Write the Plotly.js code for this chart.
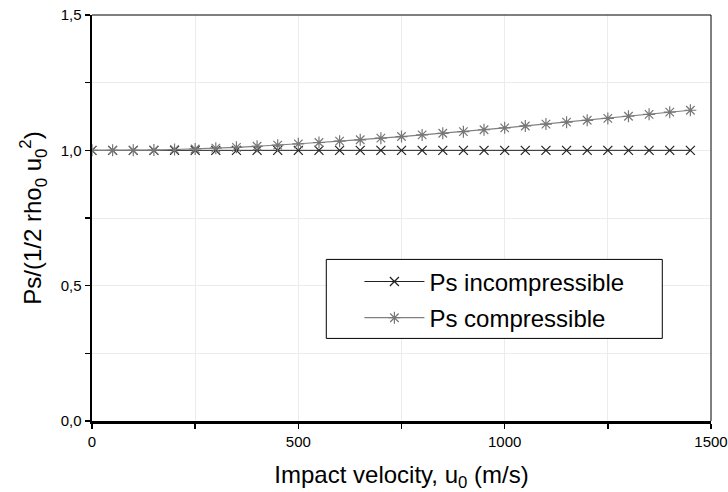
<!DOCTYPE html>
<html>
<head>
<meta charset="utf-8">
<script src="https://cdn.plot.ly/plotly-3.0.1.min.js"></script>
<style>html,body{margin:0;padding:0;background:#fff}#chart{width:728px;height:492px}</style>
</head>
<body>
<div id="chart"></div>
<script>
const velocity = [0,50,100,150,200,250,300,350,400,450,500,550,600,650,700,750,800,850,900,950,1000,1050,1100,1150,1200,1250,1300,1350,1400,1450];
const psIncompressible = [1,1,1,1,1,1,1,1,1,1,1,1,1,1,1,1,1,1,1,1,1,1,1,1,1,1,1,1,1,1];
const psCompressible = [1.000,1.000,1.000,1.001,1.003,1.005,1.008,1.011,1.015,1.019,1.024,1.029,1.034,1.039,1.045,1.051,1.057,1.063,1.069,1.076,1.083,1.090,1.097,1.104,1.111,1.118,1.126,1.133,1.141,1.148];
const yTickVals = [0,0.5,1.0,1.5];
const yTickText = ['0,0','0,5','1,0','1,5'];
const xTickVals = [0,500,1000,1500];
const xTickText = ['0','500','1000','1500'];

const font = 'Liberation Sans, Arial, sans-serif';
const traces = [
  {x: velocity, y: psIncompressible, name: 'Ps incompressible', legendgroup: 'a', type: 'scatter', mode: 'lines+markers',
   line: {color: '#222', width: 1}, marker: {symbol: 'x-thin-open', size: 9, color: '#222', line: {color: '#222', width: 1.2}}},
  {x: velocity, y: psCompressible, name: 'Ps compressible', legendgroup: 'b', type: 'scatter', mode: 'lines+markers',
   line: {color: '#808080', width: 1.2}, marker: {symbol: 'asterisk-open', size: 10, color: '#777', line: {color: '#777', width: 1.2}}}
];
const layout = {
  width: 728, height: 492,
  margin: {l: 92, r: 17, t: 15, b: 71},
  paper_bgcolor: '#fff', plot_bgcolor: '#fff',
  font: {family: font, color: '#000'},
  showlegend: true,
  legend: {x: 0.432, y: 0.398, xanchor: 'left', yanchor: 'top', bgcolor: 'rgba(0,0,0,0)', borderwidth: 0,
           itemwidth: 60, font: {family: font, size: 24, color: '#000'}, tracegroupgap: 2},
  xaxis: {range: [0, 1500], tickvals: xTickVals, ticktext: xTickText, ticks: 'outside', ticklen: 5, tickwidth: 1.5, tickcolor: '#000',
          showline: true, linecolor: '#000', linewidth: 2.5, zeroline: false, showgrid: true, gridcolor: '#ececec', gridwidth: 1,
          minor: {dtick: 250, tick0: 0, ticks: 'outside', ticklen: 5, tickwidth: 1.5, tickcolor: '#000', showgrid: true, gridcolor: '#ececec'},
          tickfont: {family: font, size: 15, color: '#000'},
          title: {text: 'Impact velocity, u<sub>0</sub> (m/s)', font: {family: font, size: 24, color: '#000'}, standoff: 18}},
  yaxis: {range: [0, 1.5], tickvals: yTickVals, ticktext: yTickText, ticks: 'outside', ticklen: 5, tickwidth: 1.5, tickcolor: '#000',
          showline: true, linecolor: '#000', linewidth: 2.5, zeroline: false, showgrid: true, gridcolor: '#ececec', gridwidth: 1,
          minor: {dtick: 0.25, tick0: 0, ticks: 'outside', ticklen: 5, tickwidth: 1.5, tickcolor: '#000', showgrid: true, gridcolor: '#ececec'},
          tickfont: {family: font, size: 15, color: '#000'},
          title: {text: 'Ps/(1/2 rho<sub>0</sub> u<sub>0</sub><sup>2</sup>)', font: {family: font, size: 24, color: '#000'}, standoff: 12}},
  shapes: [
    {type: 'line', xref: 'paper', yref: 'paper', x0: 0, x1: 1, y0: 1, y1: 1, line: {color: '#000', width: 1}},
    {type: 'line', xref: 'paper', yref: 'paper', x0: 1, x1: 1, y0: 0, y1: 1, line: {color: '#000', width: 1}},
    {type: 'rect', xref: 'paper', yref: 'paper', x0: 0.3785, x1: 0.9213, y0: 0.2034, y1: 0.398, layer: 'above',
     fillcolor: '#fff', line: {color: '#000', width: 1}}
  ]
};
Plotly.newPlot('chart', traces, layout, {displayModeBar: false, staticPlot: true});
</script>
</body>
</html>
